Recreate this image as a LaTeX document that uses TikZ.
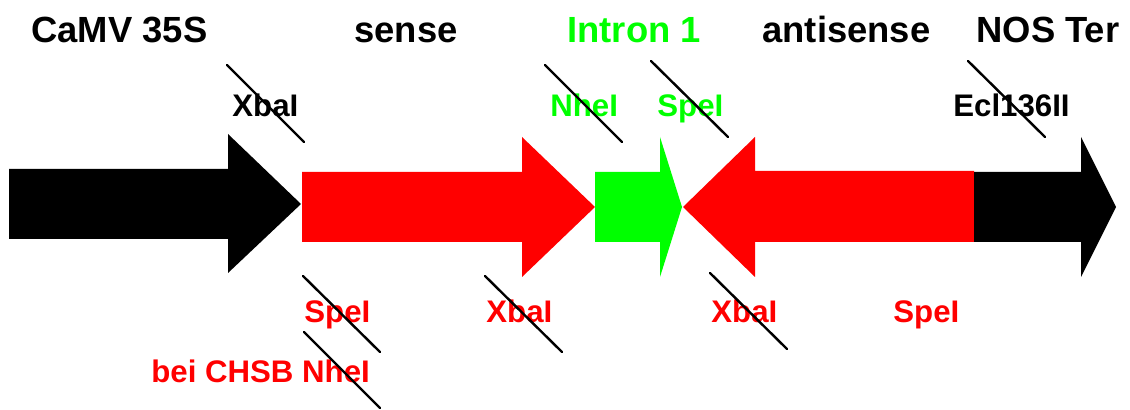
\documentclass[tikz,border=0pt]{standalone}
\usepackage{fontspec}
\setmainfont{Liberation Sans}
\usetikzlibrary{positioning}
\definecolor{hpRed}{RGB}{255,0,0}
\definecolor{hpGreen}{RGB}{0,255,0}
\tikzset{
  partlabel/.style={font=\fontsize{18.2}{21}\selectfont\bfseries,anchor=base west,inner sep=0pt},
  sitelabel/.style={font=\fontsize{15.6}{18}\selectfont\bfseries,anchor=base west,inner sep=0pt},
  cutmark/.style={line width=1.2pt,line cap=round},
}
\begin{document}
\begin{tikzpicture}[x=0.5pt,y=-0.5pt]
\useasboundingbox (0,0) rectangle (1130,410);
% promoter, sense, intron, antisense, terminator
\fill (9,169) -- (228,169) -- (228,134) -- (301,204) -- (228,273) -- (228,239) -- (9,239) -- cycle;
\fill[hpRed] (302,172) -- (522,172) -- (522,137) -- (595,207) -- (522,277) -- (522,242) -- (302,242) -- cycle;
\fill[hpGreen] (595,172) -- (660,172) -- (660,137) -- (682,207) -- (660,277) -- (660,242) -- (595,242) -- cycle;
\fill[hpRed] (683,207) -- (755,137) -- (755,171) -- (974,171) -- (974,242) -- (755,242) -- (755,277) -- cycle;
\fill (974,172) -- (1081,172) -- (1081,137) -- (1116,207) -- (1081,277) -- (1081,242) -- (974,242) -- cycle;
% part names
\node[partlabel] (camv) at (31,43) {CaMV 35S};
\node[partlabel] (sense) at (354,43) {sense};
\node[partlabel,hpGreen] (intron) at (567,43) {Intron 1};
\node[partlabel] (antisense) at (762,43) {antisense};
\node[partlabel] (nos) at (976,43) {NOS Ter};
% restriction sites
\node[sitelabel] (xbaTop) at (232,117) {XbaI};
\node[sitelabel,hpGreen] (nheTop) at (550,117) {NheI};
\node[sitelabel,hpGreen] (speTop) at (657,117) {SpeI};
\node[sitelabel] (eclTop) at (953,117) {Ecl136II};
\node[sitelabel,hpRed] (speLow) at (304,323) {SpeI};
\node[sitelabel,hpRed] (xbaLow) at (486,323) {XbaI};
\node[sitelabel,hpRed] (xbaLowR) at (711,323) {XbaI};
\node[sitelabel,hpRed] (speLowR) at (893,323) {SpeI};
\node[sitelabel,hpRed] (chsb) at (151,383) {bei CHSB NheI};
% cut marks
\foreach \xa/\ya/\xb/\yb in {227/65/304/142, 545/65/622/142, 651/61/728/137, 968/61/1045/137,
    303/276/380/352, 304/332/380/408, 485/276/562/352, 710/273/787/349}
  \draw[cutmark] (\xa,\ya) -- (\xb,\yb);
\end{tikzpicture}
\end{document}
